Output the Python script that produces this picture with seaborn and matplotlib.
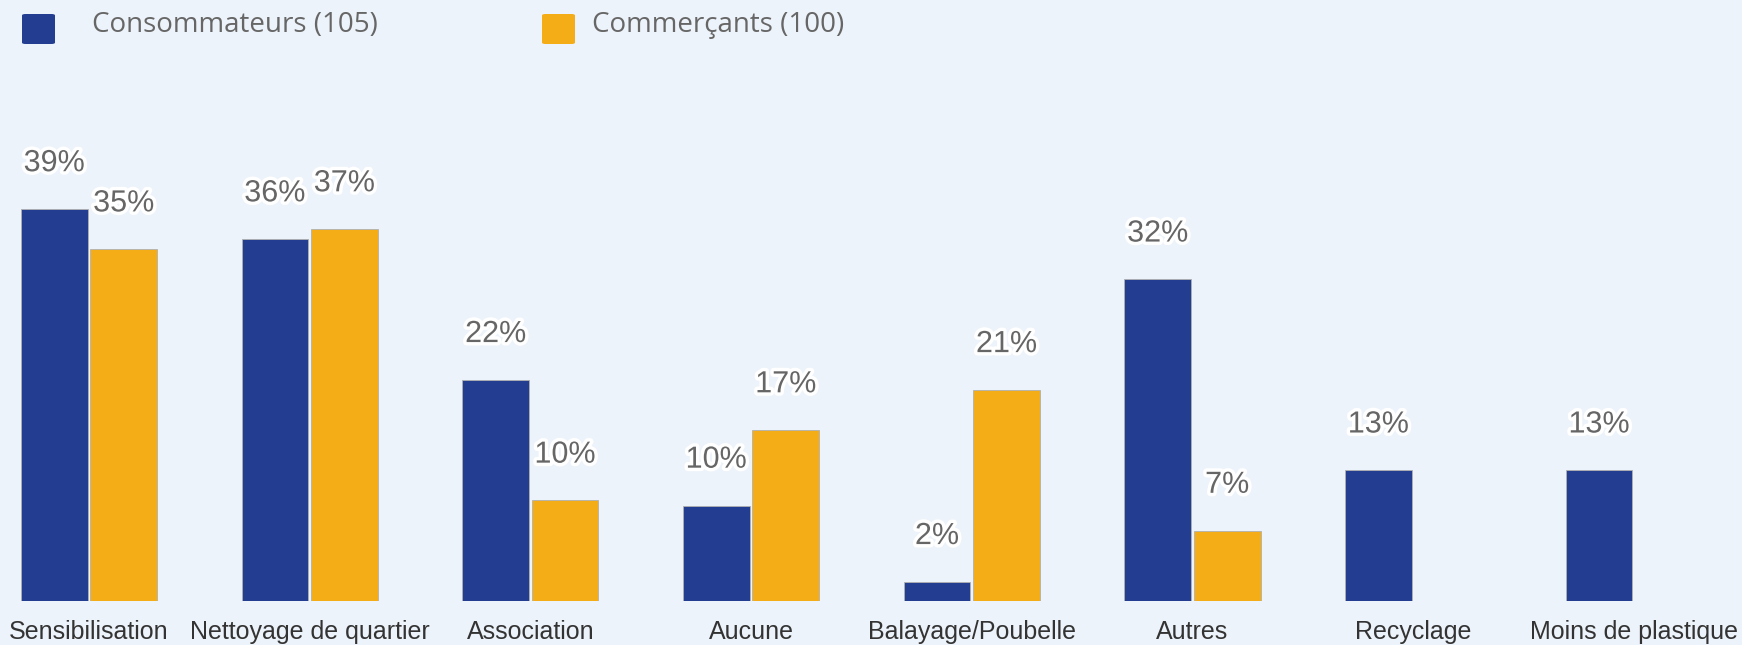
import numpy as np
import pandas as pd
import seaborn as sns
import matplotlib.pyplot as plt
import matplotlib.patheffects as pe
from matplotlib.patches import FancyBboxPatch

categories = ["Sensibilisation", "Nettoyage de quartier", "Association", "Aucune",
              "Balayage/Poubelle", "Autres", "Recyclage", "Moins de plastique"]
consommateurs = [39, 36, 22, 9.5, 1.9, 32, 13, 13]
commercants = [35, 37, 10, 17, 21, 7, None, None]
series = ["Consommateurs (105)", "Commerçants (100)"]
colors = ["#233e91", "#f4ad16"]
bg = "#edf3fa"

rows = []
for cat, a, b in zip(categories, consommateurs, commercants):
    rows.append({"cat": cat, "serie": series[0], "val": a})
    if b is not None:
        rows.append({"cat": cat, "serie": series[1], "val": b})
df = pd.DataFrame(rows)

fig = plt.figure(figsize=(17.42, 6.45), dpi=100, facecolor=bg)
ax = fig.add_axes([0, 44 / 645, 1, 501 / 645])
ax.set_facecolor(bg)

sns.barplot(data=df, x="cat", y="val", hue="serie", order=categories,
            hue_order=series, palette=colors, saturation=1, width=0.63, gap=0.04,
            edgecolor="#b0b0b0", linewidth=0.6, errorbar=None, legend=False, ax=ax)

for cont in ax.containers:
    for bar in cont:
        h = bar.get_height()
        if np.isnan(h):
            continue
        ax.annotate(f"{round(h)}%", (bar.get_x() + bar.get_width() / 2, h),
                    xytext=(0, 33), textcoords="offset points", ha="center", va="center",
                    fontsize=22, color="#666666", family="Liberation Sans",
                    path_effects=[pe.withStroke(linewidth=5, foreground="white")])

ax.set_xlim(-0.403, 7.49)
ax.set_ylim(0, 49.85)
ax.set_xlabel("")
ax.set_ylabel("")
ax.set_yticks([])
ax.tick_params(axis="x", length=0, pad=14)
for lab in ax.get_xticklabels():
    lab.set_fontsize(18)
    lab.set_family("Liberation Sans")
    lab.set_color("#333333")
for s in ax.spines.values():
    s.set_visible(False)

# legende en haut
W, H = 1742, 645
for x0, x_txt, col, name in [(22, 92, colors[0], series[0]), (542, 592, colors[1], series[1])]:
    fig.add_artist(FancyBboxPatch((x0 / W, 1 - 44 / H), 33 / W, 30 / H,
                                  boxstyle="round,pad=0,rounding_size=0.002",
                                  transform=fig.transFigure, facecolor=col, edgecolor="none"))
    fig.text(x_txt / W, 1 - 25 / H, name, ha="left", va="center", fontsize=20,
             color="#666666", family="Open Sans")

fig.savefig("out.png", dpi=100, facecolor=bg)
